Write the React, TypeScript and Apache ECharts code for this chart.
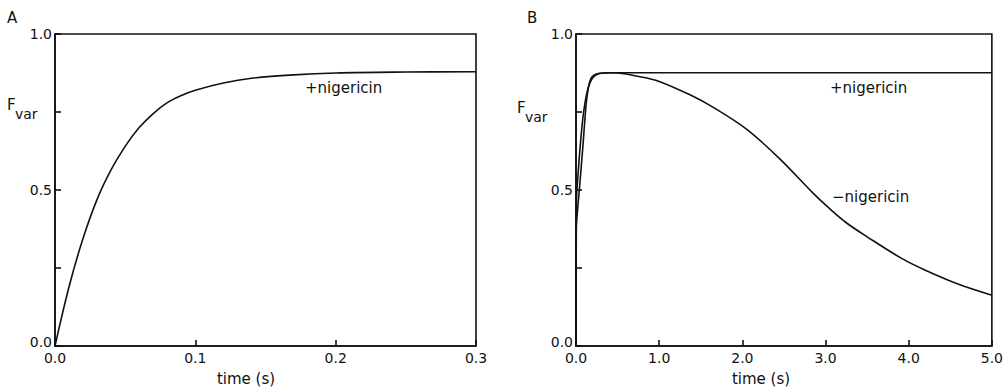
import React, { useEffect, useRef } from "react";
import * as echarts from "echarts";

// Panel A: +nigericin, time (s) vs F_var
const timeA = [0, 0.01, 0.02, 0.03, 0.04, 0.05, 0.06, 0.07, 0.08, 0.09, 0.1, 0.12, 0.14, 0.17, 0.2, 0.25, 0.3];
const fvarA = [0, 0.19, 0.345, 0.47, 0.565, 0.64, 0.7, 0.745, 0.78, 0.803, 0.82, 0.843, 0.858, 0.869, 0.875, 0.878, 0.879];

// Panel B: +nigericin
const timeBPlus = [0, 0.004, 0.04, 0.08, 0.12, 0.15, 0.18, 0.22, 0.28, 0.4, 1.0, 2.0, 3.0, 4.0, 5.0];
const fvarBPlus = [0, 0.38, 0.5, 0.63, 0.77, 0.83, 0.858, 0.869, 0.874, 0.876, 0.876, 0.876, 0.876, 0.876, 0.876];

// Panel B: -nigericin
const timeBMinus = [0, 0.004, 0.03, 0.06, 0.09, 0.13, 0.17, 0.22, 0.3, 0.45, 0.77, 1.0, 1.37, 1.65, 2.05, 2.45, 2.85, 3.05, 3.25, 3.5, 3.92, 4.2, 4.6, 5.0];
const fvarBMinus = [0, 0.45, 0.57, 0.67, 0.746, 0.81, 0.845, 0.865, 0.874, 0.876, 0.863, 0.848, 0.805, 0.765, 0.695, 0.6, 0.49, 0.44, 0.395, 0.35, 0.28, 0.243, 0.198, 0.163];

const yTickLabels = ["0.0", "0.5", "1.0"];

const FONT = "DejaVu Sans";
const INK = "#111";

export default function App() {
  const ref = useRef<HTMLDivElement>(null);

  useEffect(() => {
    document.body.style.margin = "0";
    if (!ref.current) return;
    const chart = echarts.init(ref.current, null, { renderer: "svg" });

    const pair = (xs: number[], ys: number[]) => xs.map((x, i) => [x, ys[i]]);

    const axisCommon = {
      type: "value" as const,
      axisLine: { show: true, lineStyle: { color: INK, width: 1.6 } },
      axisTick: { show: true, inside: true, length: 6, lineStyle: { color: INK, width: 1.6 } },
      splitLine: { show: false },
    };

    const xLabel = {
      color: INK,
      fontFamily: FONT,
      fontSize: 14,
      margin: 5,
      formatter: (v: number) => v.toFixed(1),
    };
    const yLabel = {
      color: INK,
      fontFamily: FONT,
      fontSize: 14,
      margin: 3,
      formatter: (v: number) => {
        const s = v.toFixed(1);
        if (!yTickLabels.includes(s) || Math.abs(v * 2 - Math.round(v * 2)) > 1e-9) return "";
        return v === 0 ? `{lo|${s}}` : s;
      },
      rich: {
        lo: { fontFamily: FONT, fontSize: 14, color: INK, padding: [0, 0, 9, 0] },
      },
    };

    const lineStyle = { color: INK, width: 1.6 };

    const txt = (x: number, y: number, text: string, size = 15, align = "left") => ({
      type: "text",
      x,
      y,
      style: {
        text,
        fill: INK,
        font: `${size}px "${FONT}"`,
        textAlign: align,
        textVerticalAlign: "middle",
      },
    });

    const option = {
      animation: false,
      backgroundColor: "#fff",
      grid: [
        { left: 55, top: 34, width: 421, height: 312, show: true, borderColor: INK, borderWidth: 1.6 },
        { left: 576, top: 34, width: 417, height: 312, show: true, borderColor: INK, borderWidth: 1.6 },
      ],
      xAxis: [
        { ...axisCommon, gridIndex: 0, min: 0, max: 0.3, interval: 0.1, axisLabel: xLabel },
        { ...axisCommon, gridIndex: 1, min: 0, max: 5, interval: 1, axisLabel: xLabel },
      ],
      yAxis: [
        { ...axisCommon, gridIndex: 0, min: 0, max: 1, interval: 0.25, axisLabel: yLabel },
        { ...axisCommon, gridIndex: 1, min: 0, max: 1, interval: 0.25, axisLabel: yLabel },
      ],
      series: [
        {
          name: "+nigericin A",
          type: "line",
          xAxisIndex: 0,
          yAxisIndex: 0,
          data: pair(timeA, fvarA),
          showSymbol: false,
          smooth: 0.35,
          lineStyle,
        },
        {
          name: "+nigericin B",
          type: "line",
          xAxisIndex: 1,
          yAxisIndex: 1,
          data: pair(timeBPlus, fvarBPlus),
          showSymbol: false,
          smooth: 0.2,
          lineStyle,
        },
        {
          name: "-nigericin B",
          type: "line",
          xAxisIndex: 1,
          yAxisIndex: 1,
          data: pair(timeBMinus, fvarBMinus),
          showSymbol: false,
          smooth: 0.35,
          lineStyle,
        },
      ],
      graphic: [
        txt(7, 18, "A", 15),
        txt(527, 18, "B", 15),
        txt(7, 105, "F", 15),
        txt(15, 114, "var", 14),
        txt(517, 108, "F", 15),
        txt(525, 117, "var", 14),
        txt(305, 88, "+nigericin", 15),
        txt(830, 88, "+nigericin", 15),
        txt(832, 197, "−nigericin", 15),
        txt(246, 379, "time (s)", 15, "center"),
        txt(761, 379, "time (s)", 15, "center"),
      ],
    };

    chart.setOption(option as any);
    return () => chart.dispose();
  }, []);

  return (
    <div
      ref={ref}
      style={{ position: "absolute", left: 0, top: 0, width: 1006, height: 389, background: "#fff" }}
    />
  );
}
